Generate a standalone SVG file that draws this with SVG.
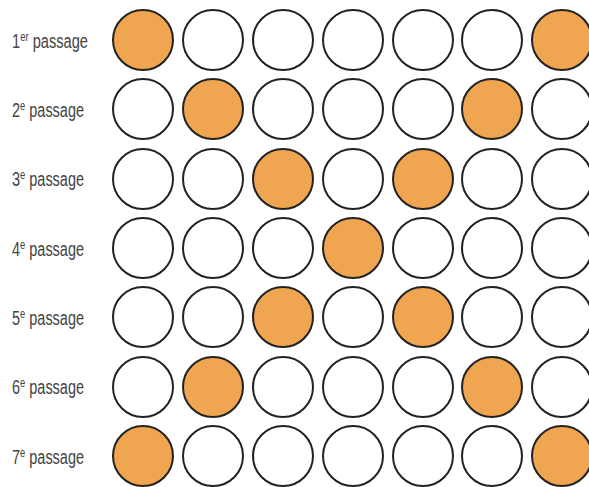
<svg xmlns="http://www.w3.org/2000/svg" width="589" height="487" viewBox="0 0 589 487">
<style>
.c{fill:#fff;stroke:#222;stroke-width:2}
.o{fill:#F0A550;stroke:#222;stroke-width:2}
.l{font-family:"Liberation Sans",Arial,sans-serif;font-size:20px;fill:#444}
.s{font-size:13px}
</style>
<rect width="589" height="487" fill="#fff"/>
<g id="labels">
<text class="l" x="12" y="48" textLength="76" lengthAdjust="spacingAndGlyphs">1<tspan class="s" dy="-7">er</tspan><tspan dy="7"> passage</tspan></text>
<text class="l" x="12" y="117" textLength="72" lengthAdjust="spacingAndGlyphs">2<tspan class="s" dy="-7">e</tspan><tspan dy="7"> passage</tspan></text>
<text class="l" x="12" y="186" textLength="72" lengthAdjust="spacingAndGlyphs">3<tspan class="s" dy="-7">e</tspan><tspan dy="7"> passage</tspan></text>
<text class="l" x="12" y="256" textLength="72" lengthAdjust="spacingAndGlyphs">4<tspan class="s" dy="-7">e</tspan><tspan dy="7"> passage</tspan></text>
<text class="l" x="12" y="325" textLength="72" lengthAdjust="spacingAndGlyphs">5<tspan class="s" dy="-7">e</tspan><tspan dy="7"> passage</tspan></text>
<text class="l" x="12" y="394" textLength="72" lengthAdjust="spacingAndGlyphs">6<tspan class="s" dy="-7">e</tspan><tspan dy="7"> passage</tspan></text>
<text class="l" x="12" y="464" textLength="72" lengthAdjust="spacingAndGlyphs">7<tspan class="s" dy="-7">e</tspan><tspan dy="7"> passage</tspan></text>
</g>
<g id="row1">
<circle class="o" cx="143" cy="40" r="30"/><circle class="c" cx="213" cy="40" r="30"/><circle class="c" cx="283" cy="40" r="30"/><circle class="c" cx="353" cy="40" r="30"/><circle class="c" cx="423" cy="40" r="30"/><circle class="c" cx="492" cy="40" r="30"/><circle class="o" cx="562" cy="40" r="30"/>
</g>
<g id="row2">
<circle class="c" cx="143" cy="109" r="30"/><circle class="o" cx="213" cy="109" r="30"/><circle class="c" cx="283" cy="109" r="30"/><circle class="c" cx="353" cy="109" r="30"/><circle class="c" cx="423" cy="109" r="30"/><circle class="o" cx="492" cy="109" r="30"/><circle class="c" cx="562" cy="109" r="30"/>
</g>
<g id="row3">
<circle class="c" cx="143" cy="179" r="30"/><circle class="c" cx="213" cy="179" r="30"/><circle class="o" cx="283" cy="179" r="30"/><circle class="c" cx="353" cy="179" r="30"/><circle class="o" cx="423" cy="179" r="30"/><circle class="c" cx="492" cy="179" r="30"/><circle class="c" cx="562" cy="179" r="30"/>
</g>
<g id="row4">
<circle class="c" cx="143" cy="248" r="30"/><circle class="c" cx="213" cy="248" r="30"/><circle class="c" cx="283" cy="248" r="30"/><circle class="o" cx="353" cy="248" r="30"/><circle class="c" cx="423" cy="248" r="30"/><circle class="c" cx="492" cy="248" r="30"/><circle class="c" cx="562" cy="248" r="30"/>
</g>
<g id="row5">
<circle class="c" cx="143" cy="317" r="30"/><circle class="c" cx="213" cy="317" r="30"/><circle class="o" cx="283" cy="317" r="30"/><circle class="c" cx="353" cy="317" r="30"/><circle class="o" cx="423" cy="317" r="30"/><circle class="c" cx="492" cy="317" r="30"/><circle class="c" cx="562" cy="317" r="30"/>
</g>
<g id="row6">
<circle class="c" cx="143" cy="387" r="30"/><circle class="o" cx="213" cy="387" r="30"/><circle class="c" cx="283" cy="387" r="30"/><circle class="c" cx="353" cy="387" r="30"/><circle class="c" cx="423" cy="387" r="30"/><circle class="o" cx="492" cy="387" r="30"/><circle class="c" cx="562" cy="387" r="30"/>
</g>
<g id="row7">
<circle class="o" cx="143" cy="456" r="30"/><circle class="c" cx="213" cy="456" r="30"/><circle class="c" cx="283" cy="456" r="30"/><circle class="c" cx="353" cy="456" r="30"/><circle class="c" cx="423" cy="456" r="30"/><circle class="c" cx="492" cy="456" r="30"/><circle class="o" cx="562" cy="456" r="30"/>
</g>
</svg>
